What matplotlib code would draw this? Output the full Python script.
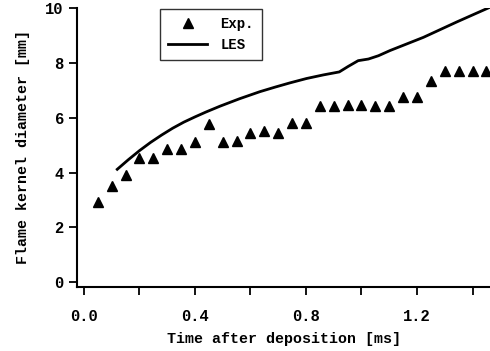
import matplotlib
matplotlib.use("Agg")
import matplotlib.pyplot as plt

exp_t = [0.05, 0.10, 0.15, 0.20, 0.25, 0.30, 0.35, 0.40, 0.45, 0.50, 0.55, 0.60,
         0.65, 0.70, 0.75, 0.80, 0.85, 0.90, 0.95, 1.00, 1.05, 1.10, 1.15, 1.20,
         1.25, 1.30, 1.35, 1.40, 1.45]
exp_d = [2.94, 3.51, 3.90, 4.52, 4.52, 4.86, 4.86, 5.13, 5.78, 5.13, 5.17, 5.46,
         5.50, 5.46, 5.80, 5.80, 6.43, 6.43, 6.46, 6.46, 6.41, 6.43, 6.75, 6.75,
         7.35, 7.69, 7.69, 7.71, 7.71]

les_t = [0.120, 0.160, 0.200, 0.240, 0.280, 0.320, 0.360, 0.400, 0.440, 0.490,
         0.560, 0.634, 0.690, 0.742, 0.802, 0.862, 0.920, 0.952, 0.988, 1.025,
         1.061, 1.103, 1.163, 1.223, 1.283, 1.343, 1.403, 1.470]
les_d = [4.12, 4.47, 4.80, 5.10, 5.37, 5.62, 5.84, 6.03, 6.21, 6.42,
         6.69, 6.95, 7.12, 7.27, 7.43, 7.56, 7.67, 7.87, 8.08, 8.14,
         8.26, 8.45, 8.69, 8.93, 9.21, 9.49, 9.76, 10.06]

xticks = [0.0, 0.2, 0.4, 0.6, 0.8, 1.0, 1.2, 1.4]
xticklabels = ["0.0", "", "0.4", "", "0.8", "", "1.2", ""]
yticks = [0, 2, 4, 6, 8, 10]

plt.rcParams['font.family'] = ['Liberation Mono', 'DejaVu Sans Mono']
plt.rcParams['font.weight'] = 'bold'

fig = plt.figure(figsize=(4.9, 3.51), dpi=100)
ax = fig.add_axes([77/490, 1-287/351, 1-77/490, (287-8)/351])

ax.plot(exp_t, exp_d, linestyle='none', marker='^', color='black', markersize=7, label='Exp.')
ax.plot(les_t, les_d, color='black', linewidth=2, label='LES')

ax.set_xlim(-0.025, 1.463)
ax.set_ylim(-0.17, 10.0)
ax.set_xticks(xticks)
ax.set_xticklabels(xticklabels)
ax.set_yticks(yticks)

for s in ['top', 'right']:
    ax.spines[s].set_visible(False)
for s in ['left', 'bottom']:
    ax.spines[s].set_linewidth(1.5)
ax.tick_params(axis='both', direction='out', length=5.5, width=1.3, labelsize=11.2)
ax.tick_params(axis='x', pad=10)
ax.tick_params(axis='y', pad=4)

ax.set_xlabel("Time after deposition [ms]", fontsize=10.8, fontweight='bold', labelpad=6)
ax.set_ylabel("Flame kernel diameter [mm]", fontsize=10.8, fontweight='bold', labelpad=11)

leg = ax.legend(loc='upper left', bbox_to_anchor=((160-77)/413, 1-1/279), frameon=True,
                fancybox=False, edgecolor='black', fontsize=10, handlelength=2.8,
                borderpad=0.6, labelspacing=0.45, handletextpad=0.95, borderaxespad=0)
leg.get_frame().set_linewidth(1.0)
for t in leg.get_texts():
    t.set_fontweight('bold')

fig.savefig("out.png", dpi=100)
